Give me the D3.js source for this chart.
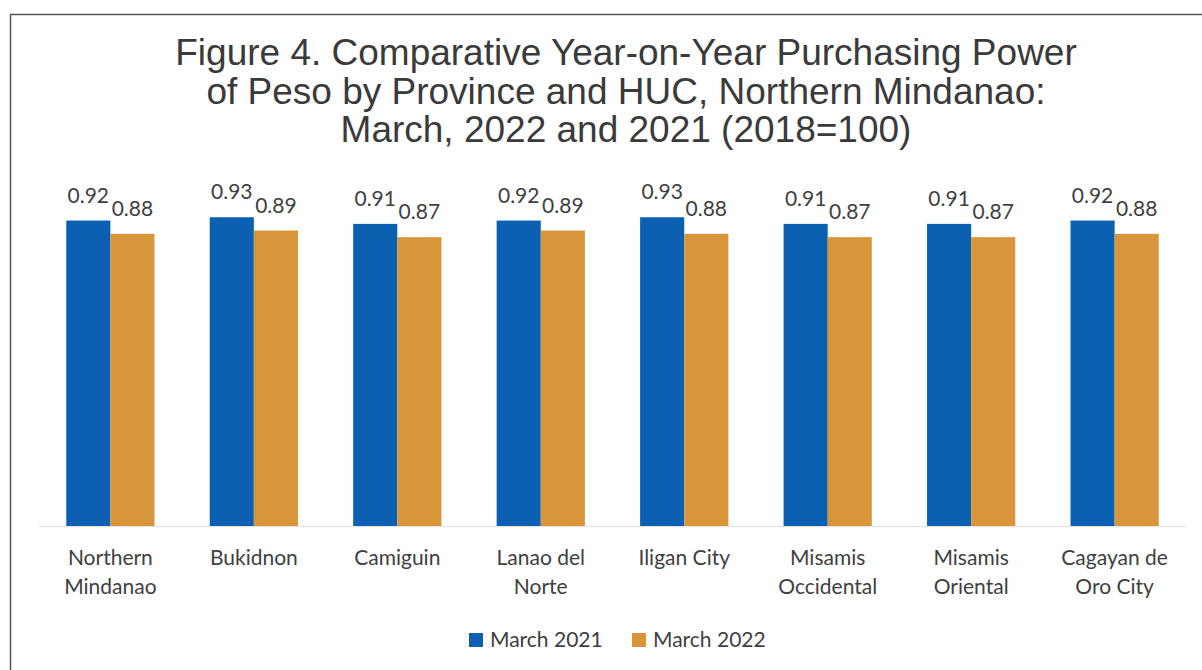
<!DOCTYPE html>
<html>
<head>
<meta charset="utf-8">
<script src="https://cdn.jsdelivr.net/npm/d3@7"></script>
<style>
  body { margin: 0; background: #fff; }
  svg { display: block; }
</style>
</head>
<body>
<svg width="1202" height="670"></svg>
<script>
// chart data
const categories = [
  ["Northern", "Mindanao"],
  ["Bukidnon"],
  ["Camiguin"],
  ["Lanao del", "Norte"],
  ["Iligan City"],
  ["Misamis", "Occidental"],
  ["Misamis", "Oriental"],
  ["Cagayan de", "Oro City"]
];
const march2021 = [0.92, 0.93, 0.91, 0.92, 0.93, 0.91, 0.91, 0.92];
const march2022 = [0.88, 0.89, 0.87, 0.89, 0.88, 0.87, 0.87, 0.88];
const seriesNames = ["March 2021", "March 2022"];
const titleLines = [
  "Figure 4. Comparative Year-on-Year Purchasing Power",
  "of Peso by Province and HUC, Northern Mindanao:",
  "March, 2022 and 2021 (2018=100)"
];

const colors = ["#0b60b2", "#d8953a"];
const labelFont = "Lato, 'Open Sans', sans-serif";

var svg = d3.select("svg");

// frame (only left and top edges are visible in the scan)
svg.append("path")
    .attr("d", "M10.5,670 L10.5,14.5 L1202,14.5")
    .attr("fill", "none")
    .attr("stroke", "#555")
    .attr("stroke-width", 1.5);

// title
svg.append("g").selectAll("text")
    .data(titleLines)
    .enter().append("text")
    .attr("x", 626)
    .attr("y", (d, i) => 65 + i * 38.5)
    .attr("text-anchor", "middle")
    .style("font-family", "'Liberation Sans', Arial, sans-serif")
    .style("font-size", "37px")
    .style("fill", "#3a3a3a")
    .text(d => d);

// scales
var x = d3.scaleBand()
    .domain(d3.range(categories.length))
    .range([39, 1186])
    .paddingInner(0.385)
    .paddingOuter(0.19);

var x1 = d3.scaleBand()
    .domain([0, 1])
    .range([0, x.bandwidth()]);

var y = d3.scaleLinear()
    .domain([0, 1])
    .range([526, 194]);

// baseline
svg.append("line")
    .attr("x1", 39).attr("x2", 1186)
    .attr("y1", y(0) + 0.5).attr("y2", y(0) + 0.5)
    .attr("stroke", "#e2e2e2")
    .attr("stroke-width", 1);

var groups = svg.append("g").selectAll("g")
    .data(categories.map((c, i) => ({ i: i, vals: [march2021[i], march2022[i]] })))
    .enter().append("g")
    .attr("transform", d => "translate(" + x(d.i) + ",0)");

groups.selectAll("rect")
    .data(d => d.vals)
    .enter().append("rect")
    .attr("x", (d, j) => x1(j))
    .attr("width", x1.bandwidth())
    .attr("y", d => y(d))
    .attr("height", d => y(0) - y(d))
    .attr("fill", (d, j) => colors[j]);

// value labels
groups.selectAll("text.val")
    .data(d => d.vals)
    .enter().append("text")
    .attr("class", "val")
    .attr("x", (d, j) => x1(j) + x1.bandwidth() / 2)
    .attr("y", d => y(d) - 18)
    .attr("text-anchor", "middle")
    .style("font-family", labelFont)
    .style("font-size", "21px")
    .style("fill", "#404040")
    .text(d => d.toFixed(2));

// category labels
groups.append("text")
    .attr("x", x.bandwidth() / 2)
    .attr("y", 565)
    .attr("text-anchor", "middle")
    .style("font-family", labelFont)
    .style("font-size", "21px")
    .style("fill", "#404040")
    .selectAll("tspan")
    .data(d => categories[d.i])
    .enter().append("tspan")
    .attr("x", x.bandwidth() / 2)
    .attr("dy", (d, i) => i === 0 ? 0 : 29)
    .text(d => d);

// legend
var legendX = [469, 632];
var legend = svg.append("g").selectAll("g")
    .data(seriesNames)
    .enter().append("g")
    .attr("transform", (d, i) => "translate(" + legendX[i] + ",633)");

legend.append("rect")
    .attr("width", 14)
    .attr("height", 14)
    .attr("y", 0)
    .attr("fill", (d, i) => colors[i]);

legend.append("text")
    .attr("x", 21)
    .attr("y", 14)
    .style("font-family", labelFont)
    .style("font-size", "21px")
    .style("fill", "#404040")
    .text(d => d);
</script>
</body>
</html>
